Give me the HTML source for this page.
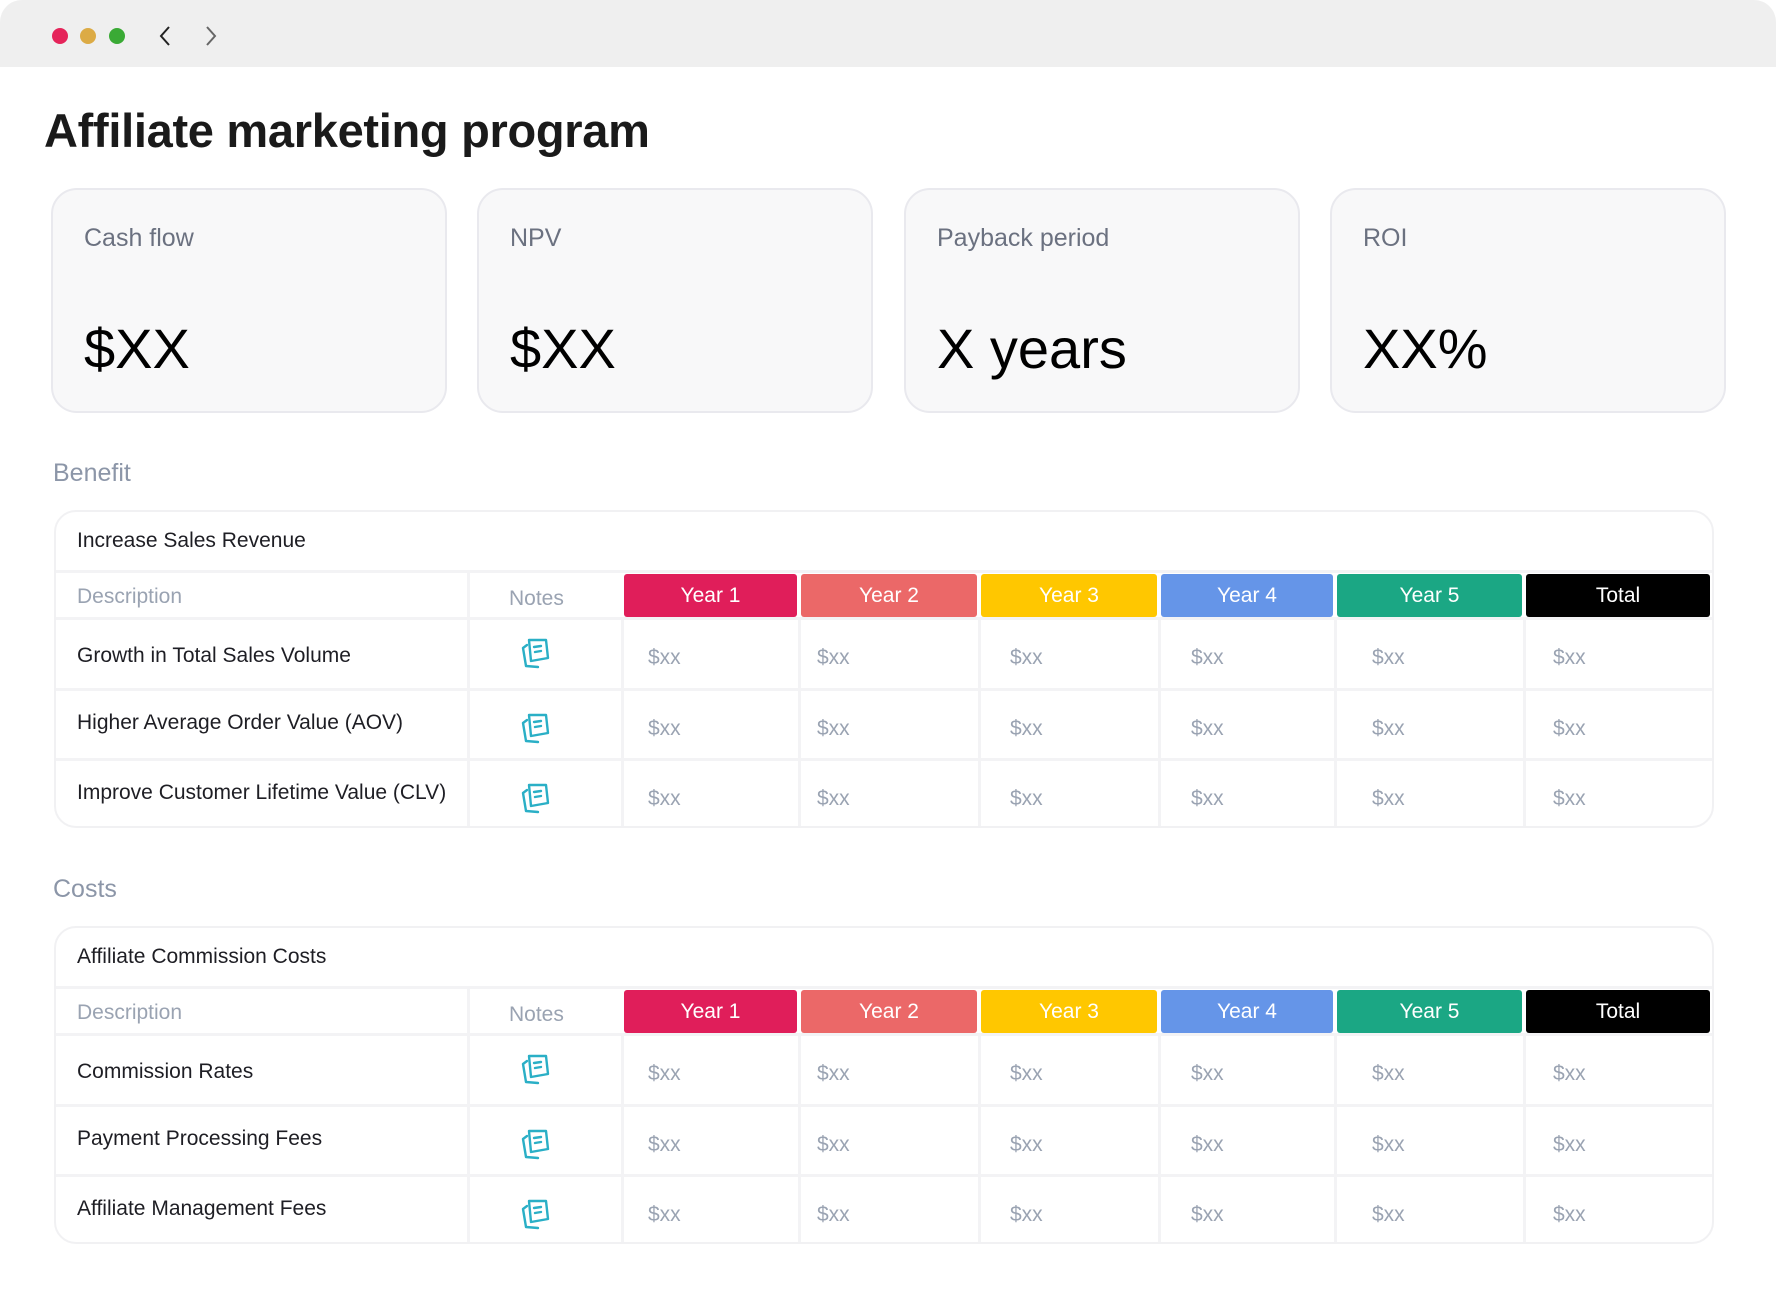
<!DOCTYPE html>
<html><head><meta charset="utf-8"><style>
*{margin:0;padding:0;box-sizing:border-box}
body{width:1776px;height:1304px;background:#fff;position:relative;overflow:hidden;font-family:"Liberation Sans",sans-serif}
.a{position:absolute}
.bar{left:0;top:0;width:1776px;height:67px;background:#efefef;border-radius:22px 22px 0 0}
.dot{width:16px;height:16px;border-radius:50%;top:28px}
.card{width:396px;height:225px;top:188px;background:#f8f8f9;border:2px solid #e9e9ee;border-radius:26px}
.card .l{position:absolute;left:31px;top:34px;font-size:25px;color:#6b7180}
.card .v{position:absolute;left:31px;top:126px;font-size:56px;color:#000}
.sec{font-size:25px;color:#8c96a8;left:53px}
.tbl{left:54px;width:1660px;height:318px;border:2px solid #f1f1f3;border-radius:22px;background:#fff}
.t{font-size:21px;color:#1e1e24}
.g{font-size:21px;color:#9aa3b2}
.h{height:43px;color:#fff;font-size:21px;text-align:center;line-height:43px;border-radius:3px}
.ln{background:#f3f3f5}
</style></head><body>
<div class="a bar"></div>
<div class="a dot" style="left:52px;background:#e5245a"></div>
<div class="a dot" style="left:80px;background:#dcab45"></div>
<div class="a dot" style="left:109px;background:#3aaa35"></div>
<svg class="a" style="left:155px;top:24px" width="70" height="24"><path d="M14 3 L6 12 L14 21" fill="none" stroke="#222" stroke-width="2"/><path d="M52 3 L60 12 L52 21" fill="none" stroke="#666" stroke-width="2"/></svg>
<div class="a" style="left:44px;top:103px;font-size:47px;font-weight:bold;color:#1a1a1a;letter-spacing:-0.3px">Affiliate marketing program</div>
<div class="a card" style="left:51px"><div class="l">Cash flow</div><div class="v">$XX</div></div>
<div class="a card" style="left:477px"><div class="l">NPV</div><div class="v">$XX</div></div>
<div class="a card" style="left:904px"><div class="l">Payback period</div><div class="v">X years</div></div>
<div class="a card" style="left:1330px"><div class="l">ROI</div><div class="v">XX%</div></div>
<div class="a sec" style="top:459px">Benefit</div>
<div class="a sec" style="top:875px">Costs</div>
<div id="root"></div>
<script>
var cols=[[624,797,'Year 1','#e01e5a'],[801,977,'Year 2','#eb6868'],[981,1157,'Year 3','#ffc700'],[1161,1333,'Year 4','#6595e8'],[1337,1522,'Year 5','#1ba784'],[1526,1710,'Total','#000']];
var tx=[648,817,1010,1191,1372,1553];
var icon='<svg width="36" height="36" viewBox="0 0 36 36" fill="none" stroke="#2aafc6" stroke-width="2.4" stroke-linejoin="round" stroke-linecap="round"><path d="M9 9 L5 12 L8 30 L20 31"/><path d="M11 4 L28 4 L30 22 L13 25 Z"/><path d="M16 11 L23 10 M17 16 L23 15"/></svg>';
function T(top,title,rows){
 var h='<div class="a tbl" style="top:'+top+'px"></div>';
 h+='<div class="a t" style="left:77px;top:'+(top+19)+'px">'+title+'</div>';
 h+='<div class="a ln" style="left:56px;top:'+(top+60)+'px;width:1656px;height:3px"></div>';
 h+='<div class="a g" style="left:77px;top:'+(top+75)+'px">Description</div>';
 h+='<div class="a g" style="left:509px;top:'+(top+77)+'px">Notes</div>';
 cols.forEach(function(c){h+='<div class="a h" style="left:'+c[0]+'px;top:'+(top+64)+'px;width:'+(c[1]-c[0])+'px;background:'+c[3]+'">'+c[2]+'</div>';});
 var rt=[top+110,top+181,top+251];
 h+='<div class="a ln" style="left:467px;top:'+(top+60)+'px;width:3px;height:256px"></div>';
 h+='<div class="a ln" style="left:621px;top:'+(top+107)+'px;width:3px;height:209px"></div>';
 [797,977,1157,1333,1522].forEach(function(x){h+='<div class="a ln" style="left:'+(x+1)+'px;top:'+(top+107)+'px;width:3px;height:209px"></div>';});
 rows.forEach(function(r,i){
  var y=rt[i];
  h+='<div class="a ln" style="left:56px;top:'+(y-3)+'px;width:1656px;height:3px"></div>';
  h+='<div class="a t" style="left:77px;top:'+(y+(i==0?24:20))+'px">'+r+'</div>';
  h+='<div class="a" style="left:518px;top:'+(y+(i==0?16:20))+'px">'+icon+'</div>';
  tx.forEach(function(x){h+='<div class="a g" style="left:'+x+'px;top:'+(y+26)+'px">$xx</div>';});
 });
 return h;
}
document.getElementById('root').innerHTML=T(510,'Increase Sales Revenue',['Growth in Total Sales Volume','Higher Average Order Value (AOV)','Improve Customer Lifetime Value (CLV)'])+T(926,'Affiliate Commission Costs',['Commission Rates','Payment Processing Fees','Affiliate Management Fees']);
</script>
</body></html>
